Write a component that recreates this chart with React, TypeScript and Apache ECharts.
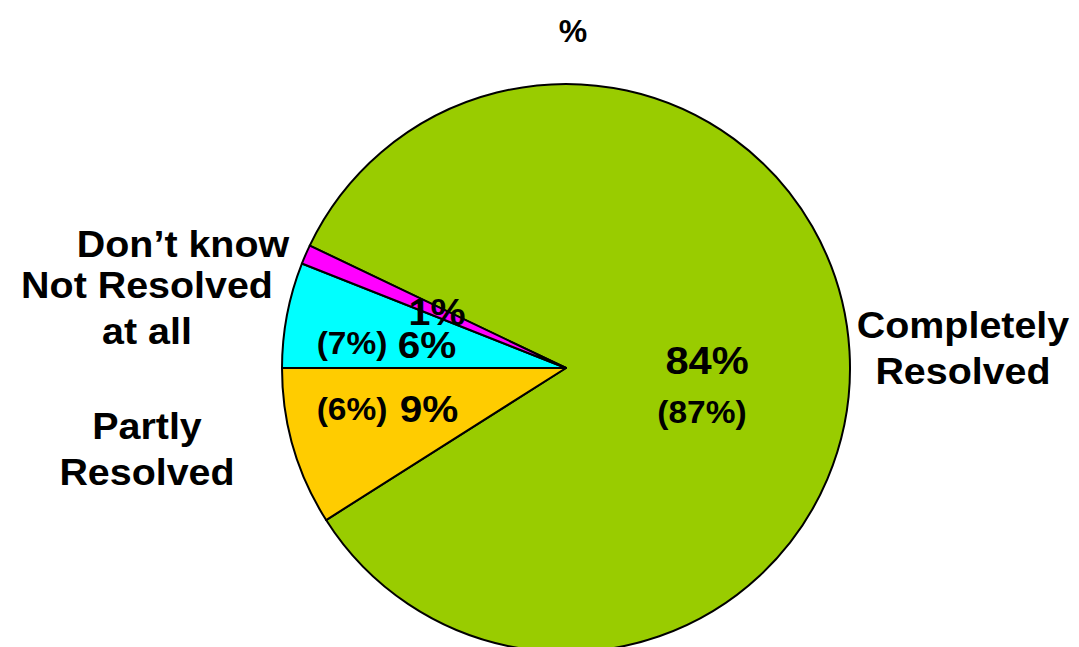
import React, { useEffect, useRef } from "react";
import * as echarts from "echarts";

const categories = ["Completely\nResolved", "Partly\nResolved", "Not Resolved\nat all", "Don\u2019t know"];
const values = [84, 9, 6, 1.1];
const valueLabels = ["84%", "9%", "6%", "1%"];
const priorLabels = ["(87%)", "(6%)", "(7%)", ""];
const colors = ["#99CC00", "#FFCC00", "#00FFFF", "#FF00FF"];
const title = "%";

export default function App() {
  const ref = useRef<HTMLDivElement>(null);
  useEffect(() => {
    if (!ref.current) return;
    const chart = echarts.init(ref.current, undefined, { renderer: "svg" });
    const family = "Liberation Sans, Arial, sans-serif";
    const total = values.reduce((a, b) => a + b, 0);
    const startAngle = 180 + ((values[0] + values[1]) / total) * 360;
    const txt = (text: string, x: number, y: number, size: number, lh?: number) => ({
      type: "text",
      x,
      y,
      scaleX: 1.08,
      z: 100,
      style: {
        text,
        fontFamily: family,
        fontWeight: "bold",
        fontSize: size,
        lineHeight: lh,
        fill: "#000",
        align: "center",
        verticalAlign: "middle",
      },
    });
    const outerPos = [
      [963, 349],
      [147, 450],
      [147, 309],
      [183, 245],
    ];
    const g: any[] = [];
    g.push({ ...txt(title, 573, 31, 32), scaleX: 1.0 });
    categories.forEach((c, i) => g.push(txt(c, outerPos[i][0], outerPos[i][1], 36.5, 46)));
    g.push(txt(valueLabels[0], 707, 361, 38.5));
    g.push(txt(priorLabels[0], 702, 412, 31));
    g.push(txt(priorLabels[1], 352, 409, 31));
    g.push(txt(valueLabels[1], 429, 409, 37.5));
    g.push(txt(priorLabels[2], 352, 343, 31));
    g.push(txt(valueLabels[2], 427, 345, 37.5));
    g.push(txt(valueLabels[3], 437, 313, 36.5));

    chart.setOption({
      animation: false,
      backgroundColor: "#fff",
      series: [
        {
          type: "pie",
          center: [566, 368],
          radius: [0, 284],
          startAngle,
          clockwise: true,
          label: { show: false },
          labelLine: { show: false },
          itemStyle: { borderColor: "#000", borderWidth: 2 },
          emphasis: { disabled: true },
          data: categories.map((c, i) => ({ name: c, value: values[i], itemStyle: { color: colors[i] } })),
        },
      ],
      graphic: g,
    });
    return () => chart.dispose();
  }, []);
  return <div ref={ref} style={{ width: 1079, height: 647, position: "absolute", left: 0, top: 0 }} />;
}
